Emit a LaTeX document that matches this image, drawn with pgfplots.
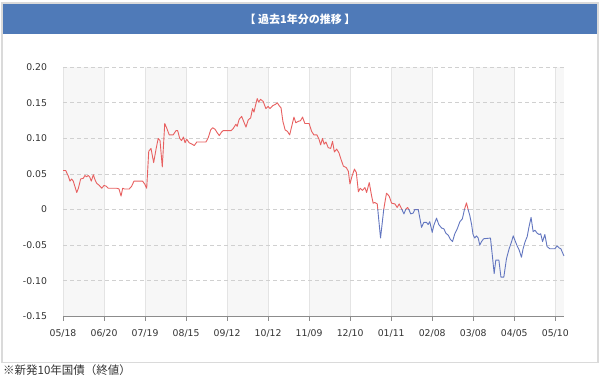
\documentclass[border=0pt]{standalone}
\usepackage{pgfplots}
\pgfplotsset{compat=1.18}
\usepackage{pgfplotstable}
\usepackage{fontspec}
\setmainfont{DejaVu Sans}
\newfontfamily\cjk{Noto Sans CJK JP}
\definecolor{framegray}{HTML}{DADADA}
\definecolor{titleblue}{HTML}{4F7AB8}
\definecolor{bandgray}{HTML}{F7F7F7}
\definecolor{vgrid}{HTML}{E4E4E4}
\definecolor{hgrid}{HTML}{D0D0D0}
\definecolor{zerogray}{HTML}{A0A0A0}
\definecolor{axisgray}{HTML}{8C8C8C}
\definecolor{textgray}{HTML}{333333}
\definecolor{redline}{RGB}{232,96,96}
\definecolor{blueline}{RGB}{98,118,192}

\pgfplotstableread{
i v
0.1 0.055
1.3 0.055
2.6 0.047
3.4 0.040
4.2 0.043
5.0 0.040
6.7 0.024
7.5 0.030
8.6 0.043
9.9 0.044
10.7 0.048
11.5 0.046
12.3 0.048
13.0 0.046
13.8 0.040
14.8 0.049
15.6 0.042
16.4 0.037
17.7 0.034
18.9 0.030
20.0 0.034
21.0 0.033
22.1 0.030
26.2 0.030
27.3 0.029
28.3 0.019
29.1 0.030
29.9 0.029
32.3 0.029
33.5 0.033
34.6 0.040
38.8 0.040
39.8 0.036
40.8 0.030
41.8 0.082
42.9 0.086
44.2 0.066
45.3 0.084
46.4 0.100
47.3 0.097
48.4 0.060
49.6 0.121
50.5 0.115
51.8 0.105
53.7 0.105
55.1 0.111
55.9 0.111
56.9 0.100
57.8 0.097
58.7 0.102
59.5 0.094
60.3 0.099
61.5 0.094
62.9 0.092
64.0 0.090
65.2 0.095
69.7 0.095
70.8 0.101
72.0 0.112
73.0 0.115
74.1 0.113
75.2 0.108
76.2 0.104
77.3 0.109
78.1 0.111
82.0 0.111
83.0 0.114
84.3 0.120
84.9 0.117
85.9 0.127
87.1 0.131
88.2 0.123
89.2 0.116
90.3 0.126
91.5 0.129
92.4 0.142
93.1 0.137
93.9 0.147
94.7 0.156
95.4 0.151
96.3 0.155
97.6 0.152
98.9 0.142
100.0 0.145
100.9 0.142
102.2 0.146
103.6 0.148
104.5 0.150
105.4 0.146
106.3 0.143
107.2 0.124
108.3 0.112
109.4 0.110
110.5 0.105
111.5 0.117
112.6 0.130
113.5 0.122
114.7 0.124
115.8 0.125
116.8 0.130
117.9 0.121
120.0 0.121
121.2 0.110
122.3 0.105
123.8 0.105
124.8 0.099
125.6 0.091
126.5 0.100
127.3 0.092
128.2 0.095
129.3 0.087
130.5 0.086
131.4 0.096
132.3 0.081
133.4 0.085
134.5 0.080
135.5 0.071
136.7 0.061
138.1 0.059
139.1 0.054
139.9 0.036
140.9 0.047
142.1 0.057
143.0 0.052
144.0 0.025
144.9 0.030
146.0 0.027
147.2 0.031
148.0 0.024
149.3 0.038
150.4 0.020
151.2 0.009
152.0 0.010
153.2 0.008
154.8 -0.040
156.4 0.001
157.7 0.023
159.0 0.019
160.2 0.009
161.8 0.008
162.9 0.003
163.9 0.008
165.1 0.001
166.2 -0.006
167.2 0.001
168.0 0.003
168.8 -0.001
169.5 -0.006
170.7 -0.005
171.5 0.000
173.2 0.000
174.8 -0.025
175.9 -0.018
177.2 -0.018
178.0 -0.021
178.8 -0.017
180.0 -0.032
180.8 -0.022
182.1 -0.012
183.2 -0.021
184.6 -0.026
185.7 -0.027
186.6 -0.033
187.8 -0.036
188.9 -0.042
189.9 -0.045
191.0 -0.034
192.2 -0.027
193.5 -0.017
194.7 -0.013
195.7 0.000
196.7 0.0095
197.5 0.000
198.3 -0.008
199.2 -0.021
199.9 -0.035
200.7 -0.040
201.6 -0.037
202.4 -0.040
203.2 -0.050
204.0 -0.045
205.1 -0.041
208.4 -0.040
209.4 -0.067
210.2 -0.090
211.0 -0.071
212.5 -0.071
213.5 -0.095
214.9 -0.095
216.2 -0.069
217.5 -0.055
218.7 -0.045
219.5 -0.037
220.3 -0.043
221.4 -0.051
222.4 -0.057
223.5 -0.067
224.3 -0.055
225.3 -0.045
226.3 -0.038
227.2 -0.024
228.2 -0.011
229.2 -0.031
230.1 -0.029
231.1 -0.033
232.1 -0.035
232.9 -0.034
233.8 -0.045
234.9 -0.035
236.0 -0.052
237.3 -0.055
239.8 -0.055
240.9 -0.051
241.9 -0.054
242.7 -0.055
244.2 -0.065
}\yielddata

\begin{document}
\begin{tikzpicture}[x=1bp,y=1bp]
\useasboundingbox (0,0) rectangle (600,379);
\fill[white] (0,0) rectangle (600,379);
\draw[framegray, line width=1.2bp] (2,16.3) rectangle (598,376);
\fill[titleblue] (2.6,345) rectangle (597.4,375.4);
\node[white, inner sep=0, font=\cjk\bfseries\fontsize{11bp}{13bp}\selectfont] at (300,360) {【 過去1年分の推移 】};
\node[anchor=west, inner sep=0, text=textgray, font=\cjk\fontsize{11.5bp}{13bp}\selectfont] at (3,8.5) {※新発10年国債（終値）};

\begin{axis}[
  at={(63bp,62.7bp)}, anchor=south west,
  scale only axis, width=501.3bp, height=249bp,
  axis on top,
  xmin=0, xmax=244.4, ymin=-0.15, ymax=0.2,
  axis x line*=bottom, axis y line*=left,
  y axis line style={draw=none},
  x axis line style={color=axisgray, line width=0.9bp},
  xtick={0,20,...,240},
  xticklabels={05/18,06/20,07/19,08/15,09/12,10/12,11/09,12/10,01/11,02/08,03/08,04/05,05/10},
  ytick={-0.15,-0.10,-0.05,0.05,0.10,0.15,0.20},
  yticklabels={-0.15,-0.10,-0.05,0.05,0.10,0.15,0.20},
  extra y ticks={0},
  extra y tick labels={0},
  extra y tick style={grid style={color=zerogray, line width=0.9bp, dash pattern=on 4bp off 3bp}},
  tick align=outside,
  major tick length=4.5bp,
  xtick style={color=axisgray, line width=0.8bp},
  ytick style={draw=none},
  xmajorgrids, ymajorgrids,
  x grid style={color=vgrid, line width=0.8bp},
  y grid style={color=hgrid, line width=0.8bp, dash pattern=on 4bp off 3bp},
  tick label style={font=\fontsize{9.3bp}{11bp}\selectfont, text=textgray},
  xticklabel style={yshift=-5bp},
  yticklabel style={xshift=-8bp},
]
\addplot[fill=bandgray, draw=none] coordinates {(0,-0.15) (0,0.2) (20,0.2) (20,-0.15)} -- cycle;
\addplot[fill=bandgray, draw=none] coordinates {(40,-0.15) (40,0.2) (60,0.2) (60,-0.15)} -- cycle;
\addplot[fill=bandgray, draw=none] coordinates {(80,-0.15) (80,0.2) (100,0.2) (100,-0.15)} -- cycle;
\addplot[fill=bandgray, draw=none] coordinates {(120,-0.15) (120,0.2) (140,0.2) (140,-0.15)} -- cycle;
\addplot[fill=bandgray, draw=none] coordinates {(160,-0.15) (160,0.2) (180,0.2) (180,-0.15)} -- cycle;
\addplot[fill=bandgray, draw=none] coordinates {(200,-0.15) (200,0.2) (220,0.2) (220,-0.15)} -- cycle;
\addplot[fill=bandgray, draw=none] coordinates {(240,-0.15) (240,0.2) (244.4,0.2) (244.4,-0.15)} -- cycle;
\end{axis}

% positive part (red)
\begin{axis}[
  at={(63bp,169.41bp)}, anchor=south west,
  scale only axis, width=501.3bp, height=142.29bp,
  xmin=0, xmax=244.4, ymin=0, ymax=0.2, hide axis]
\addplot[redline, line width=0.9bp, line join=round] table[x=i,y=v] {\yielddata};
\end{axis}

% negative part (blue)
\begin{axis}[
  at={(63bp,62.7bp)}, anchor=south west,
  scale only axis, width=501.3bp, height=106.71bp,
  xmin=0, xmax=244.4, ymin=-0.15, ymax=0, hide axis]
\addplot[blueline, line width=0.9bp, line join=round] table[x=i,y=v] {\yielddata};
\end{axis}
\end{tikzpicture}
\end{document}
